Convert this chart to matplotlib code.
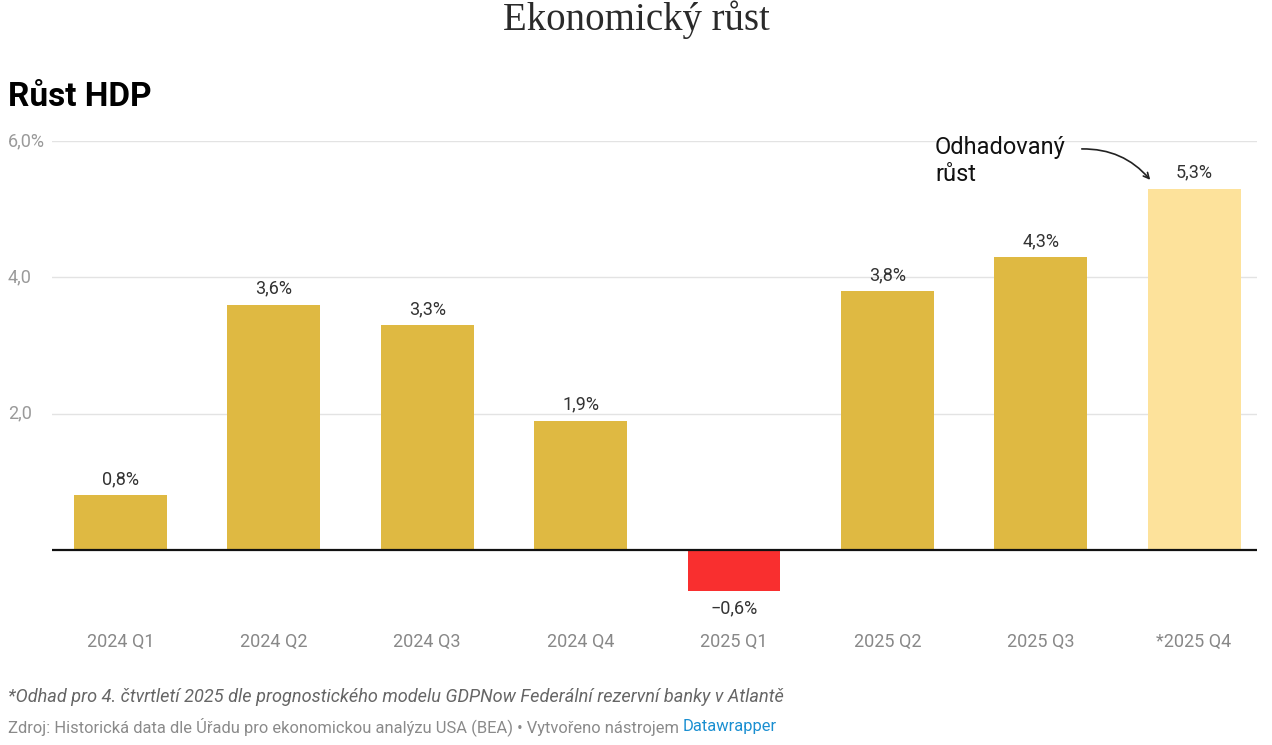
import matplotlib
matplotlib.use('Agg')
import matplotlib.pyplot as plt
import matplotlib.transforms as mtransforms

plt.rcParams['font.family'] = ['Roboto', 'DejaVu Sans']

# data
quarters = ['2024 Q1', '2024 Q2', '2024 Q3', '2024 Q4', '2025 Q1', '2025 Q2', '2025 Q3', '*2025 Q4']
growth = [0.8, 3.6, 3.3, 1.9, -0.6, 3.8, 4.3, 5.3]
bar_colors = ['#dfb942'] * 4 + ['#f92f2f'] + ['#dfb942'] * 2 + ['#fde29b']
y_ticks = [2, 4, 6]
y_ticklabels = ['2,0', '4,0', '6,0%']

W, H = 1272, 745
fig = plt.figure(figsize=(W / 100, H / 100), dpi=100)
ax = fig.add_axes([52 / W, 1 - 618.2 / H, (1257 - 52) / W, (618.2 - 141) / H])

x = list(range(len(quarters)))
bars = ax.bar(x, growth, width=0.605, color=bar_colors, zorder=2)
ax.set_xlim(-0.446, 7.41)
ax.set_ylim(-1.0, 6.0)

# grid
ax.set_yticks(y_ticks)
ax.tick_params(axis='y', length=0, labelleft=False)
ax.grid(axis='y', color='#e3e3e3', linewidth=1, zorder=0)
ax.axhline(0, color='#111111', linewidth=1.6, zorder=3)
for s in ax.spines.values():
    s.set_visible(False)

ax.set_xticks(x)
ax.set_xticklabels(quarters, fontsize=13, color='#888888')
ax.tick_params(axis='x', length=0, pad=10.5)

# y tick labels at left edge of figure
trans = mtransforms.blended_transform_factory(fig.transFigure, ax.transData)
for v, lab in zip(y_ticks, y_ticklabels):
    ax.text(8 / W, v, lab, transform=trans, ha='left', va='center',
            fontsize=13, color='#9a9a9a')

# value labels
for xi, v in zip(x, growth):
    lab = ('%.1f%%' % v).replace('.', ',').replace('-', '\u2212')
    if v >= 0:
        ax.annotate(lab, (xi, v), xytext=(0, 5), textcoords='offset points',
                    ha='center', va='bottom', fontsize=13, color='#333333')
    else:
        ax.annotate(lab, (xi, v), xytext=(0, -6), textcoords='offset points',
                    ha='center', va='top', fontsize=13, color='#333333')

# titles
fig.text(0.5, 1 - 20 / H, 'Ekonomický růst', ha='center', va='center',
         fontsize=28, color='#2a2a2a', family=['Liberation Serif', 'DejaVu Serif'])
fig.text(8 / W, 1 - 97 / H, 'Růst HDP', ha='left', va='center',
         fontsize=24, fontweight='bold', color='#000000')

# annotation
fig.text(935 / W, 1 - 161 / H, 'Odhadovaný\nrůst', ha='left', va='center',
         fontsize=17, color='#111111', linespacing=1.25)
ax.annotate('', xy=(1152, H - 182), xycoords='figure pixels',
            xytext=(1079, H - 149), textcoords='figure pixels',
            arrowprops=dict(arrowstyle='->', color='#222222', lw=1.2,
                            connectionstyle='arc3,rad=-0.25'))

# footer
fig.text(8 / W, 1 - 697 / H,
         '*Odhad pro 4. čtvrtletí 2025 dle prognostického modelu GDPNow Federální rezervní banky v Atlantě',
         ha='left', va='center', fontsize=13.1, style='italic', color='#666666')
t1 = fig.text(8 / W, 1 - 727 / H,
              'Zdroj: Historická data dle Úřadu pro ekonomickou analýzu USA (BEA) • Vytvořeno nástrojem ',
              ha='left', va='center', fontsize=11.85, color='#8a8a8a')
fig.canvas.draw()
bb = t1.get_window_extent()
fig.text(bb.x1 / W, 1 - 727 / H, 'Datawrapper', ha='left', va='center',
         fontsize=11.85, color='#1a8fd1')

fig.savefig('out.png', dpi=100)
